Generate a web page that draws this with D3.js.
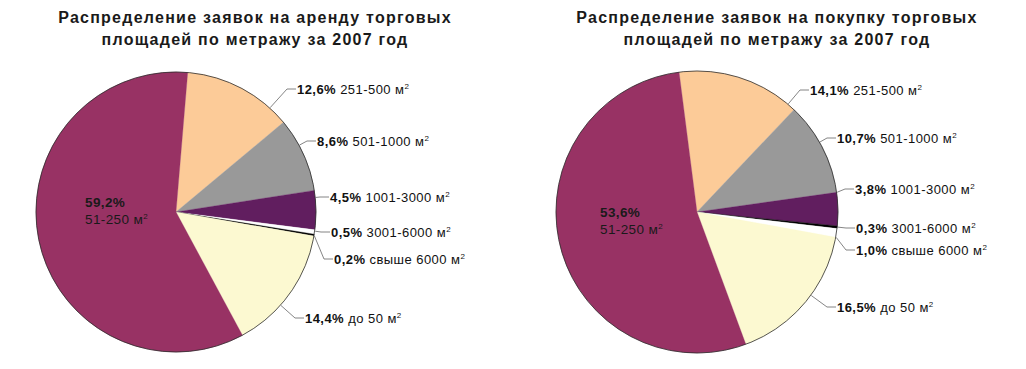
<!DOCTYPE html>
<html>
<head>
<meta charset="utf-8">
<script src="https://cdn.jsdelivr.net/npm/d3@7"></script>
<style>
  body { margin: 0; background: #fff; }
  svg { display: block; font-family: Arial, "Liberation Sans", sans-serif; }
</style>
</head>
<body>
<div id="chart"></div>
<script>
// categories (clockwise order as drawn)
const categories = ['251-500', '501-1000', '1001-3000', '3001-6000', 'свыше 6000', 'до 50', '51-250'];
const rentValues = [12.6, 8.6, 4.5, 0.5, 0.2, 14.4, 59.2];
const buyValues = [14.1, 10.7, 3.8, 0.3, 1.0, 16.5, 53.6];

const rentTitle = ['Распределение заявок на аренду торговых', 'площадей по метражу за 2007 год'];
const buyTitle = ['Распределение заявок на покупку торговых', 'площадей по метражу за 2007 год'];

// slice colours
const rentColors = ['#fccb98', '#999999', '#611e5f', '#ffffff', '#000000', '#fcf9d1', '#983264'];
const buyColors = ['#fccb98', '#999999', '#611e5f', '#000000', '#ffffff', '#fcf9d1', '#983264'];

// layout of each chart (label spots are placement only, not data)
const charts = [
  {
    values: rentValues, colors: rentColors, title: rentTitle,
    cx: 176, cy: 212, r: 140, start: 4.8, titleX: 255,
    labels: [[297, 89], [317, 141], [330, 197], [331, 232], [334, 259], [305, 318], [85, 202]]
  },
  {
    values: buyValues, colors: buyColors, title: buyTitle,
    cx: 697, cy: 212, r: 141, start: -7.3, titleX: 777,
    labels: [[810, 90], [837, 138], [855, 189], [856, 228], [856, 250], [837, 307], [600, 212]]
  }
];

const fmt = v => d3.format('.1f')(v).replace('.', ',') + '%';

const svg = d3.select('#chart')
  .append('svg')
  .attr('width', 1026)
  .attr('height', 369);

charts.forEach(ch => {
  const g = svg.append('g');

  // title
  g.append('text')
    .attr('x', ch.titleX)
    .attr('y', 23)
    .attr('text-anchor', 'middle')
    .style('font-size', '16px')
    .style('font-weight', 'bold')
    .style('letter-spacing', '1.25px')
    .attr('fill', '#1a1a1a')
    .selectAll('tspan')
    .data(ch.title)
    .enter()
    .append('tspan')
    .attr('x', ch.titleX)
    .attr('dy', (d, i) => i === 0 ? 0 : 22)
    .text(d => d);

  const startRad = ch.start * Math.PI / 180;
  const pie = d3.pie()
    .sort(null)
    .startAngle(startRad)
    .endAngle(startRad + 2 * Math.PI);

  const arcs = pie(ch.values);
  const arc = d3.arc().innerRadius(0).outerRadius(ch.r);

  const pieG = g.append('g')
    .attr('transform', `translate(${ch.cx},${ch.cy})`);

  pieG.selectAll('path')
    .data(arcs)
    .enter()
    .append('path')
    .attr('d', arc)
    .attr('fill', (d, i) => ch.colors[i])
    .attr('stroke', (d, i) => ch.colors[i])
    .attr('stroke-width', 0.3);

  pieG.append('circle')
    .attr('r', ch.r)
    .attr('fill', 'none')
    .attr('stroke', '#2b2b2b')
    .attr('stroke-width', 0.8);

  // labels
  arcs.forEach((a, i) => {
    const [lx, ly] = ch.labels[i];
    const isInside = i === arcs.length - 1;

    if (isInside) {
      const t = g.append('text')
        .attr('x', lx)
        .attr('y', ly + 5)
        .style('font-size', '13.5px')
        .style('letter-spacing', '0.4px')
        .attr('fill', '#1a1a1a');
      t.append('tspan').style('font-weight', 'bold').text(fmt(ch.values[i]));
      t.append('tspan').attr('x', lx).attr('dy', 17).text(categories[i] + ' м');
      t.append('tspan').attr('dy', -5).style('font-size', '8px').text('2');
      return;
    }

    // leader line: from pie edge (nearest angle inside the slice) to elbow then to text
    const elbowX = lx - 10;
    let ang = Math.atan2(elbowX - ch.cx, -(ly - ch.cy));
    if (ang < startRad) ang += 2 * Math.PI;
    ang = Math.max(a.startAngle, Math.min(a.endAngle, ang));
    const sx = ch.cx + (ch.r + 0.5) * Math.sin(ang);
    const sy = ch.cy - (ch.r + 0.5) * Math.cos(ang);

    g.append('path')
      .attr('d', d3.line()([[sx, sy], [elbowX, ly], [lx - 1, ly]]))
      .attr('fill', 'none')
      .attr('stroke', '#666')
      .attr('stroke-width', 0.8);

    const t = g.append('text')
      .attr('x', lx)
      .attr('y', ly + 4.5)
      .style('font-size', '13px')
      .style('letter-spacing', '0.45px')
      .attr('fill', '#111');
    t.append('tspan').style('font-weight', 'bold').text(fmt(ch.values[i]));
    t.append('tspan').text(' ' + categories[i] + ' м');
    t.append('tspan').attr('dy', -5).style('font-size', '8px').text('2');
  });
});
</script>
</body>
</html>
